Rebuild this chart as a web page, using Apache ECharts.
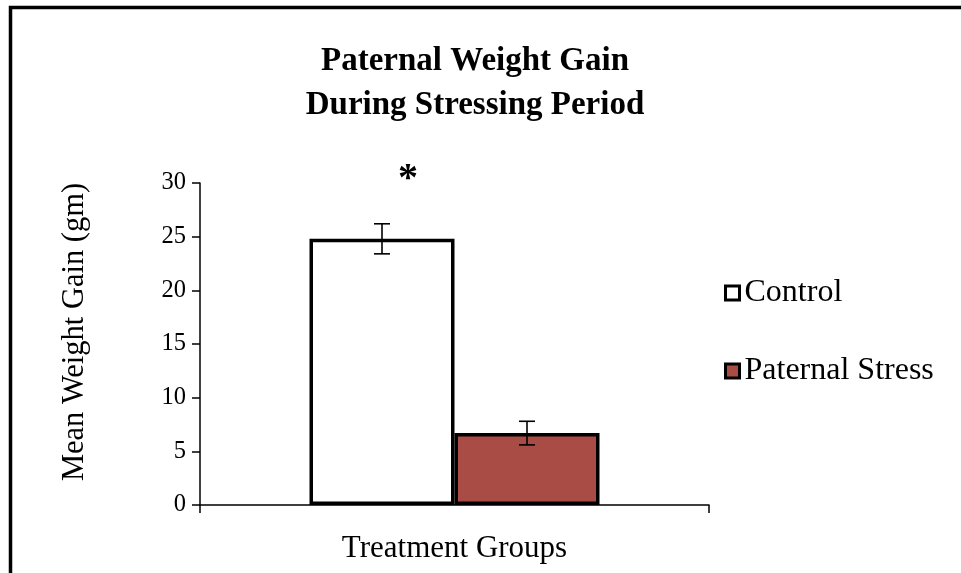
<!DOCTYPE html>
<html>
<head>
<meta charset="utf-8">
<script src="https://cdn.jsdelivr.net/npm/echarts@6/dist/echarts.min.js"></script>
<style>
  html, body { margin: 0; padding: 0; background: #fff; }
  #chart { width: 961px; height: 573px; }
</style>
</head>
<body>
<div id="chart"></div>
<script>
// Mean paternal weight gain (gm) with standard error, per treatment group
const categories = ['Treatment Groups'];
const seriesNames = ['Control', 'Paternal Stress'];
const meanGain = [24.8, 6.7];
const errorGain = [1.4, 1.1];
const yTicks = { min: 0, max: 30, interval: 5 };

const FONT = '"Liberation Serif", "Times New Roman", serif';
const BAR_W = 145;
const fills = ['#ffffff', '#a84c45'];

const chart = echarts.init(document.getElementById('chart'), null, { renderer: 'canvas' });

const barSeries = seriesNames.map((name, i) => ({
  name: name,
  type: 'bar',
  data: [meanGain[i]],
  barWidth: BAR_W,
  barGap: '0%',
  itemStyle: { color: fills[i], borderColor: '#000', borderWidth: 3.5 },
  silent: true
}));

// Error bars drawn over each bar, shifted to the bar's centre within the category
const errorSeries = {
  type: 'custom',
  silent: true,
  z: 5,
  data: meanGain.map((m, i) => [0, m - errorGain[i], m + errorGain[i], i]),
  renderItem: function (params, api) {
    const idx = api.value(3);
    const shift = (idx === 0 ? -1 : 1) * BAR_W / 2;
    const lo = api.coord([api.value(0), api.value(1)]);
    const hi = api.coord([api.value(0), api.value(2)]);
    const x = lo[0] + shift;
    const cap = 8;
    const style = { stroke: '#000', lineWidth: 1.6 };
    return {
      type: 'group',
      children: [
        { type: 'line', shape: { x1: x, y1: hi[1], x2: x, y2: lo[1] }, style: style },
        { type: 'line', shape: { x1: x - cap, y1: hi[1], x2: x + cap, y2: hi[1] }, style: style },
        { type: 'line', shape: { x1: x - cap, y1: lo[1], x2: x + cap, y2: lo[1] }, style: style }
      ]
    };
  }
};

chart.setOption({
  backgroundColor: '#fff',
  animation: false,
  title: {
    text: 'Paternal Weight Gain\nDuring Stressing Period',
    left: 470,
    top: 34,
    textAlign: 'center',
    textStyle: { fontFamily: FONT, fontWeight: 'bold', fontSize: 33, lineHeight: 44, color: '#000' }
  },
  legend: {
    orient: 'vertical',
    left: 719,
    top: 272,
    itemWidth: 14,
    itemHeight: 14,
    itemGap: 46,
    icon: 'rect',
    data: seriesNames,
    itemStyle: { borderColor: '#000', borderWidth: 3 },
    textStyle: { fontFamily: FONT, fontSize: 32, color: '#000', lineHeight: 32 },
    selectedMode: false
  },
  grid: { left: 200, right: 252, top: 183, bottom: 68, containLabel: false },
  xAxis: {
    type: 'category',
    data: categories,
    axisLine: { lineStyle: { color: '#000', width: 1.5 } },
    axisTick: { show: true, length: 8, lineStyle: { color: '#000', width: 1.5 } },
    axisLabel: { fontFamily: FONT, fontSize: 31, color: '#000', margin: 28 },
    splitLine: { show: false }
  },
  yAxis: {
    type: 'value',
    min: yTicks.min,
    max: yTicks.max,
    interval: yTicks.interval,
    name: 'Mean Weight Gain (gm)',
    nameLocation: 'middle',
    nameGap: 110,
    nameTextStyle: { fontFamily: FONT, fontSize: 30.5, color: '#000', padding: [0, 0, 0, 24] },
    axisLine: { show: true, lineStyle: { color: '#000', width: 1.5 } },
    axisTick: { show: true, length: 8, lineStyle: { color: '#000', width: 1.5 } },
    axisLabel: { fontFamily: FONT, fontSize: 24.5, color: '#000', margin: 14 },
    splitLine: { show: false }
  },
  series: barSeries.concat([errorSeries]),
  graphic: [
    // frame edge along top and left
    {
      type: 'polyline',
      shape: { points: [[10.5, 573], [10.5, 7.5], [961, 7.5]] },
      style: { stroke: '#000', lineWidth: 3.5, fill: null },
      silent: true
    },
    // significance marker
    {
      type: 'text',
      left: 398,
      top: 160,
      style: { text: '*', fontFamily: FONT, fontWeight: 'bold', fontSize: 40, fill: '#000' },
      silent: true
    }
  ]
});
</script>
</body>
</html>
